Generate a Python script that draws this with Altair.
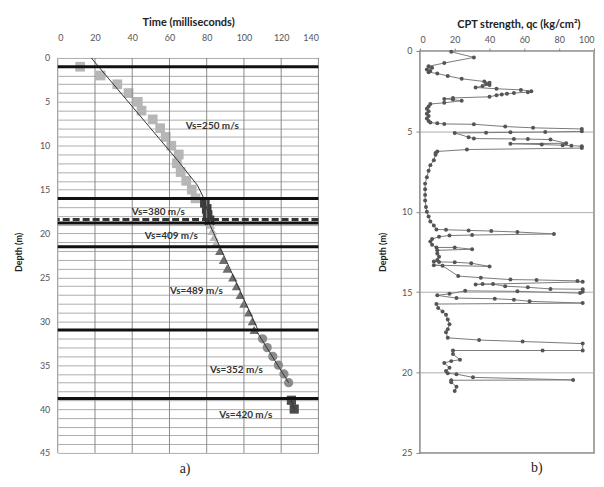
import altair as alt
import pandas as pd

# ---------------- Left panel: travel time vs depth ----------------
s250_t = [12, 23, 32, 38, 43, 45, 51, 55, 58, 61, 65, 64, 66, 69, 72, 74]
s250_d = [1, 2, 3, 4, 5, 6, 7, 8, 9, 10, 11, 12, 13, 14, 15, 16]
s380_t = [79, 80, 80.5, 81.5]
s380_d = [16.5, 17.2, 17.9, 18.5]
s409_t = [82, 83, 84, 85]
s409_d = [19.0, 19.7, 20.4, 21.1]
s489_t = [87, 89, 91, 94, 96, 98, 100, 102.5, 104.5, 105.5]
s489_d = [22, 23, 24, 25, 26, 27, 28, 29, 30, 31]
s352_t = [110, 112.5, 115.5, 118.5, 121.5, 124]
s352_d = [32, 33, 34, 35, 36, 37]
s420_t = [125.5, 127]
s420_d = [39, 40]

series_names = ["Vs=250", "Vs=380", "Vs=409", "Vs=489", "Vs=352", "Vs=420"]
series_colors = ["#b6b6b6", "#3c3c3c", "#b8b8b8", "#6e6e6e", "#8c8c8c", "#4a4a4a"]
series_shapes = ["square", "square", "triangle-up", "triangle-up", "circle", "square"]
series_sizes = [95, 85, 55, 55, 75, 85]

fit_seg = ["A", "A", "A", "A", "B", "B", "C", "C", "D", "D", "E", "E"]
fit_t = [18, 64.5, 75, 79, 78.5, 83, 81, 108, 107, 124, 125, 127]
fit_d = [0, 11.7, 14.5, 16.2, 16.2, 18.9, 18.7, 31.2, 31.2, 37, 38.8, 40]

solid_bounds = [1, 16, 18.8, 21.5, 31, 38.8]
dashed_bounds = [18.4]

lab_text = ["Vs=250 m/s", "Vs=380 m/s", "Vs=409 m/s", "Vs=489 m/s", "Vs=352 m/s", "Vs=420 m/s"]
lab_t = [83, 54, 61, 74.5, 96, 101]
lab_d = [7.8, 17.6, 20.3, 26.5, 35.6, 40.7]

# ---------------- Right panel: CPT profile ----------------
cpt_qc = [18, 31, 14, 5, 7, 4, 6, 5, 10, 16, 24, 37, 40, 38, 40, 36, 32, 44, 58, 64, 62,
          54, 50, 47, 44, 40, 19, 14, 19, 24, 14, 6, 5, 4, 5, 4, 5, 4, 5, 6, 10, 14, 31,
          49, 65, 93, 93, 72, 52, 38, 20, 28, 31, 54, 62, 75, 84, 52, 70, 82, 87, 93, 93,
          27, 10, 9, 9, 8, 6, 5, 4, 3, 3, 3, 3, 3.5, 4, 5, 6, 8, 9.5, 15, 28, 41, 56, 77,
          30, 17, 11, 7, 6, 7, 9.5, 20, 30, 10, 10, 11, 10, 8, 11, 20, 29.5, 40, 8, 13,
          22, 35, 52, 67, 90.5, 93.5, 32, 36, 42, 49, 62, 75, 93.5, 93.5, 92, 56, 26, 17,
          10, 21, 43, 54, 63, 93.5, 9.5, 10.5, 13, 15, 16, 17, 16, 15, 16, 34, 59, 93.5,
          93.5, 70.5, 19, 19, 23, 18, 14, 17, 15, 16, 21, 30.5, 88, 18, 18, 21, 20]
cpt_d = [0.05, 0.4, 0.75, 0.95, 1.05, 1.15, 1.25, 1.32, 1.4, 1.55, 1.73, 1.9, 1.97, 2.05,
         2.12, 2.18, 2.27, 2.35, 2.42, 2.5, 2.56, 2.62, 2.66, 2.7, 2.75, 2.85, 2.92, 2.98,
         3.02, 3.1, 3.22, 3.3, 3.45, 3.6, 3.75, 3.9, 4.05, 4.2, 4.35, 4.45, 4.5, 4.54, 4.56,
         4.7, 4.78, 4.85, 5.0, 5.04, 5.06, 5.08, 5.1, 5.36, 5.45, 5.47, 5.48, 5.51, 5.74,
         5.77, 5.82, 5.86, 5.89, 5.92, 6.04, 6.13, 6.25, 6.35, 6.45, 6.8, 7.1, 7.45, 7.85,
         8.25, 8.6, 8.95, 9.3, 9.7, 10.0, 10.3, 10.6, 10.85, 11.1, 11.12, 11.16, 11.2,
         11.26, 11.38, 11.45, 11.48, 11.55, 11.7, 11.85, 12.05, 12.22, 12.22, 12.33, 12.4,
         12.6, 12.8, 13.0, 13.1, 13.12, 13.14, 13.2, 13.4, 13.32, 13.36, 14.0, 14.1, 14.22,
         14.24, 14.3, 14.36, 14.52, 14.5, 14.5, 14.63, 14.7, 14.8, 14.82, 14.97, 15.06,
         14.95, 14.92, 15.1, 15.2, 15.37, 15.41, 15.47, 15.57, 15.68, 15.74, 15.98, 16.2,
         16.4, 16.7, 17.0, 17.3, 17.5, 17.84, 17.98, 18.07, 18.2, 18.63, 18.63, 18.63,
         18.85, 19.2, 19.29, 19.4, 19.7, 19.9, 20.05, 20.1, 20.3, 20.46, 20.48, 20.6,
         20.88, 21.15]

time_ticks = [0, 20, 40, 60, 80, 100, 120, 140]
depth_ticks_left = list(range(0, 46))
qc_ticks = [0, 20, 40, 60, 80, 100]
depth_ticks_right = [0, 5, 10, 15, 20, 25]

FONT = "Lato"

rows = []
for name, ts, ds in zip(series_names,
                        [s250_t, s380_t, s409_t, s489_t, s352_t, s420_t],
                        [s250_d, s380_d, s409_d, s489_d, s352_d, s420_d]):
    for t, d in zip(ts, ds):
        rows.append({"series": name, "t": t, "d": d})
pts = pd.DataFrame(rows)
fit = pd.DataFrame({"seg": fit_seg, "t": fit_t, "d": fit_d, "i": list(range(len(fit_t)))})
solid = pd.DataFrame({"d": solid_bounds})
dashed = pd.DataFrame({"d": dashed_bounds})
labs = pd.DataFrame({"text": lab_text, "t": lab_t, "d": lab_d})
vgrid = pd.DataFrame({"t": time_ticks,
                      "d": [depth_ticks_left[0]] * len(time_ticks),
                      "d2": [depth_ticks_left[-1]] * len(time_ticks)})
cpt = pd.DataFrame({"qc": cpt_qc, "d": cpt_d, "i": list(range(len(cpt_qc)))})

# the left panel's depth axis starts a little above 0 so that its top aligns as in the figure
xscaleL = alt.Scale(domain=[0, 140], nice=False, zero=False)
yscaleL = alt.Scale(domain=[-0.794, 45], nice=False, zero=False, reverse=True)
xaxisL = alt.Axis(orient="top", values=time_ticks, title="Time (milliseconds)",
                  grid=False, domain=False, ticks=False, labelPadding=9, titlePadding=6,
                  labelFont=FONT, labelFontSize=9, labelColor="#555",
                  titleFont=FONT, titleFontSize=11, titleFontWeight="bold",
                  titleColor="#222")
yaxisL = alt.Axis(values=depth_ticks_left, title="Depth (m)",
                  labelExpr="datum.value % 5 == 0 ? datum.label : ''",
                  grid=True, gridColor="#acacac", gridWidth=1, domain=False,
                  ticks=False, labelPadding=8, titlePadding=16,
                  labelFont=FONT, labelFontSize=9, labelColor="#555",
                  titleFont=FONT, titleFontSize=9, titleFontWeight="bold",
                  titleColor="#222")
xL = alt.X("t:Q", scale=xscaleL, axis=xaxisL)
yL = alt.Y("d:Q", scale=yscaleL, axis=yaxisL)

points = alt.Chart(pts).mark_point(filled=True, opacity=1, strokeWidth=0).encode(
    x=xL, y=yL,
    color=alt.Color("series:N", scale=alt.Scale(domain=series_names, range=series_colors), legend=None),
    shape=alt.Shape("series:N", scale=alt.Scale(domain=series_names, range=series_shapes), legend=None),
    size=alt.Size("series:N", scale=alt.Scale(domain=series_names, range=series_sizes), legend=None),
)
vgrid_rules = alt.Chart(vgrid).mark_rule(color="#8a8a8a", strokeWidth=1).encode(
    x=xL, y=yL, y2="d2:Q")
fitlines = alt.Chart(fit).mark_line(color="#333", strokeWidth=1).encode(
    x=xL, y=yL, detail="seg:N", order="i:Q")
solid_rules = alt.Chart(solid).mark_rule(color="#111", strokeWidth=3).encode(y=yL)
dashed_rules = alt.Chart(dashed).mark_rule(color="#333", strokeWidth=3, strokeDash=[7, 3]).encode(y=yL)
texts = alt.Chart(labs).mark_text(font=FONT, fontSize=10, fontWeight="bold", color="#333").encode(
    x=xL, y=yL, text="text:N")

left = alt.layer(points, vgrid_rules, fitlines, solid_rules, dashed_rules, texts).properties(
    width=262, height=404,
    view=alt.ViewBackground(stroke="transparent"),
    title=alt.TitleParams("a)", orient="bottom", font="Liberation Serif", fontSize=14,
                          fontWeight="normal", color="#222", offset=4, dx=-3))

xR = alt.X("qc:Q", scale=alt.Scale(domain=[0, 100], nice=False),
           axis=alt.Axis(orient="top", values=qc_ticks, title="CPT strength, qc (kg/cm²)",
                         grid=False, domain=False, ticks=True, tickSize=3, tickColor="#888",
                         labelPadding=4, titlePadding=6, titleX=99, labelFlush=True,
                         labelFont=FONT, labelFontSize=9, labelColor="#555",
                         titleFont=FONT, titleFontSize=11, titleFontWeight="bold",
                         titleColor="#222"))
yR = alt.Y("d:Q", scale=alt.Scale(domain=[0, 25], nice=False, reverse=True),
           axis=alt.Axis(values=depth_ticks_right, title="Depth (m)",
                         grid=True, gridColor="#acacac", gridWidth=1, domain=False,
                         ticks=True, tickSize=4, tickColor="#888", labelPadding=4,
                         titlePadding=14,
                         labelFont=FONT, labelFontSize=9, labelColor="#555",
                         titleFont=FONT, titleFontSize=9, titleFontWeight="bold",
                         titleColor="#222"))
right = alt.Chart(cpt).mark_line(
    color="#7a7a7a", strokeWidth=1,
    point=alt.OverlayMarkDef(color="#555", size=16, filled=True)
).encode(x=xR, y=yR, order="i:Q").properties(
    width=175, height=404,
    view=alt.ViewBackground(stroke="#888", strokeWidth=1.5),
    title=alt.TitleParams("b)", orient="bottom", font="Liberation Serif", fontSize=14,
                          fontWeight="normal", color="#222", offset=3, dx=30))

chart = alt.hconcat(left, right, spacing=57).properties(
    padding={"left": 6, "top": 6, "right": 0, "bottom": 0}
)

chart.save("out.html", embed_options={"renderer": "svg", "actions": False})
